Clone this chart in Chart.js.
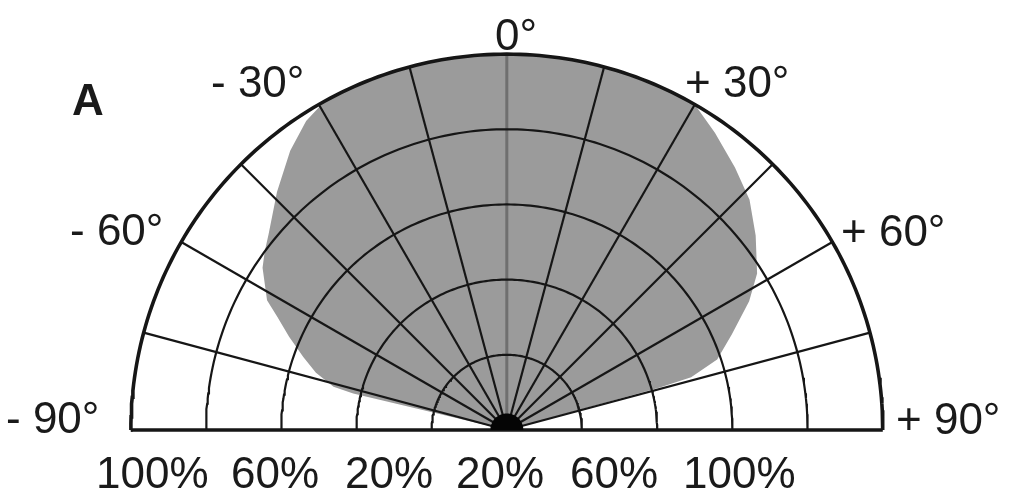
<!DOCTYPE html>
<html>
<head>
<meta charset="utf-8">
<script src="https://cdn.jsdelivr.net/npm/chart.js@4/dist/chart.umd.min.js"></script>
<style>
  html, body { margin: 0; padding: 0; background: #fff; }
  canvas { display: block; }
</style>
</head>
<body>
<canvas id="polar" width="1017" height="504"></canvas>
<script>
// radiation pattern: angle (deg from axis) and relative intensity (%)
const patternAngles = [-77, -76.6, -76, -73.3, -70.3, -66.8, -63.8, -61.6, -56.4, -53.6, -50.6, -44, -37.8, -33, -29,
  -25, -20, -15, -10, -5, 0, 5, 10, 15, 20, 25, 30,
  35, 41, 46.5, 52, 58, 62, 67, 71.5, 74, 74.5, 75]
const patternIntensity = [0, 42, 47.5, 53, 57.5, 63, 68, 72.5, 78, 80, 82, 88, 94, 98, 100,
  100, 100, 100, 100, 100, 100, 100, 100, 100, 100, 100, 100,
  96.5, 92.5, 89, 84, 78.5, 73, 65, 59, 51, 42, 0]

const ringLevels = [20, 40, 60, 80, 100]
const spokeAngles = [-75, -60, -45, -30, -15, 0, 15, 30, 45, 60, 75]
const angleLabels = ['- 90°', '- 60°', '- 30°', '0°', '+ 30°', '+ 60°', '+ 90°']
const distLabels = ['100%', '60%', '20%', '20%', '60%', '100%']

const rad = d => d * Math.PI / 180
const polar = (deg, r) => ({ x: r * Math.sin(rad(deg)), y: r * Math.cos(rad(deg)) })

const gridColor = '#161616'
const datasets = []

datasets.push({
  data: patternAngles.map((a, i) => polar(a, patternIntensity[i])),
  showLine: true, fill: 'shape', backgroundColor: '#9b9b9b',
  borderWidth: 0, pointRadius: 0, tension: 0, order: 5
})

ringLevels.forEach(level => {
  const pts = []
  for (let a = -90; a <= 90; a += 1) pts.push(polar(a, level))
  datasets.push({
    data: pts, showLine: true, borderColor: gridColor,
    borderWidth: level === 100 ? 3.6 : 2.2, pointRadius: 0, order: level === 100 ? 1 : 3
  })
})

spokeAngles.forEach(a => {
  datasets.push({
    data: [polar(a, 0), polar(a, 100)], showLine: true,
    borderColor: a === 0 ? '#6f6f6f' : gridColor,
    borderWidth: a === 0 ? 3 : 2.2, pointRadius: 0, order: a === 0 ? 4 : 3
  })
})

// baseline
datasets.push({
  data: [polar(-90, 100), polar(90, 100)], showLine: true,
  borderColor: gridColor, borderWidth: 3.6, pointRadius: 0, order: 1
})

// dark hub where the spokes meet
const hub = []
for (let a = -90; a <= 90; a += 5) hub.push(polar(a, 4.4))
datasets.push({
  data: hub, showLine: true, fill: 'shape', backgroundColor: '#050505',
  borderWidth: 0, pointRadius: 0, order: 0
})

const textPlugin = {
  id: 'labels',
  afterDraw(chart) {
    const ctx = chart.ctx
    ctx.save()
    ctx.fillStyle = '#1a1a1a'
    ctx.textAlign = 'left'
    ctx.textBaseline = 'alphabetic'
    ctx.font = '44px "Liberation Sans", Arial, sans-serif'
    const anglePos = [[6, 433], [70, 245], [211, 97], [495, 50], [685, 97], [841, 246], [896, 434]]
    angleLabels.forEach((t, i) => ctx.fillText(t, anglePos[i][0], anglePos[i][1]))
    const distX = [96, 231, 345, 456, 570, 683]
    distLabels.forEach((t, i) => ctx.fillText(t, distX[i], 488))
    ctx.font = 'bold 44px "Liberation Sans", Arial, sans-serif'
    ctx.fillText('A', 72, 115)
    ctx.restore()
  }
}

new Chart(document.getElementById('polar').getContext('2d'), {
  type: 'scatter',
  data: { datasets },
  options: {
    responsive: false,
    animation: false,
    layout: { padding: 0 },
    plugins: { legend: { display: false }, tooltip: { enabled: false } },
    scales: {
      x: { type: 'linear', min: -134.8, max: 135.7, display: false },
      y: { type: 'linear', min: -19.7, max: 114.4, display: false }
    }
  },
  plugins: [textPlugin]
})
</script>
</body>
</html>
